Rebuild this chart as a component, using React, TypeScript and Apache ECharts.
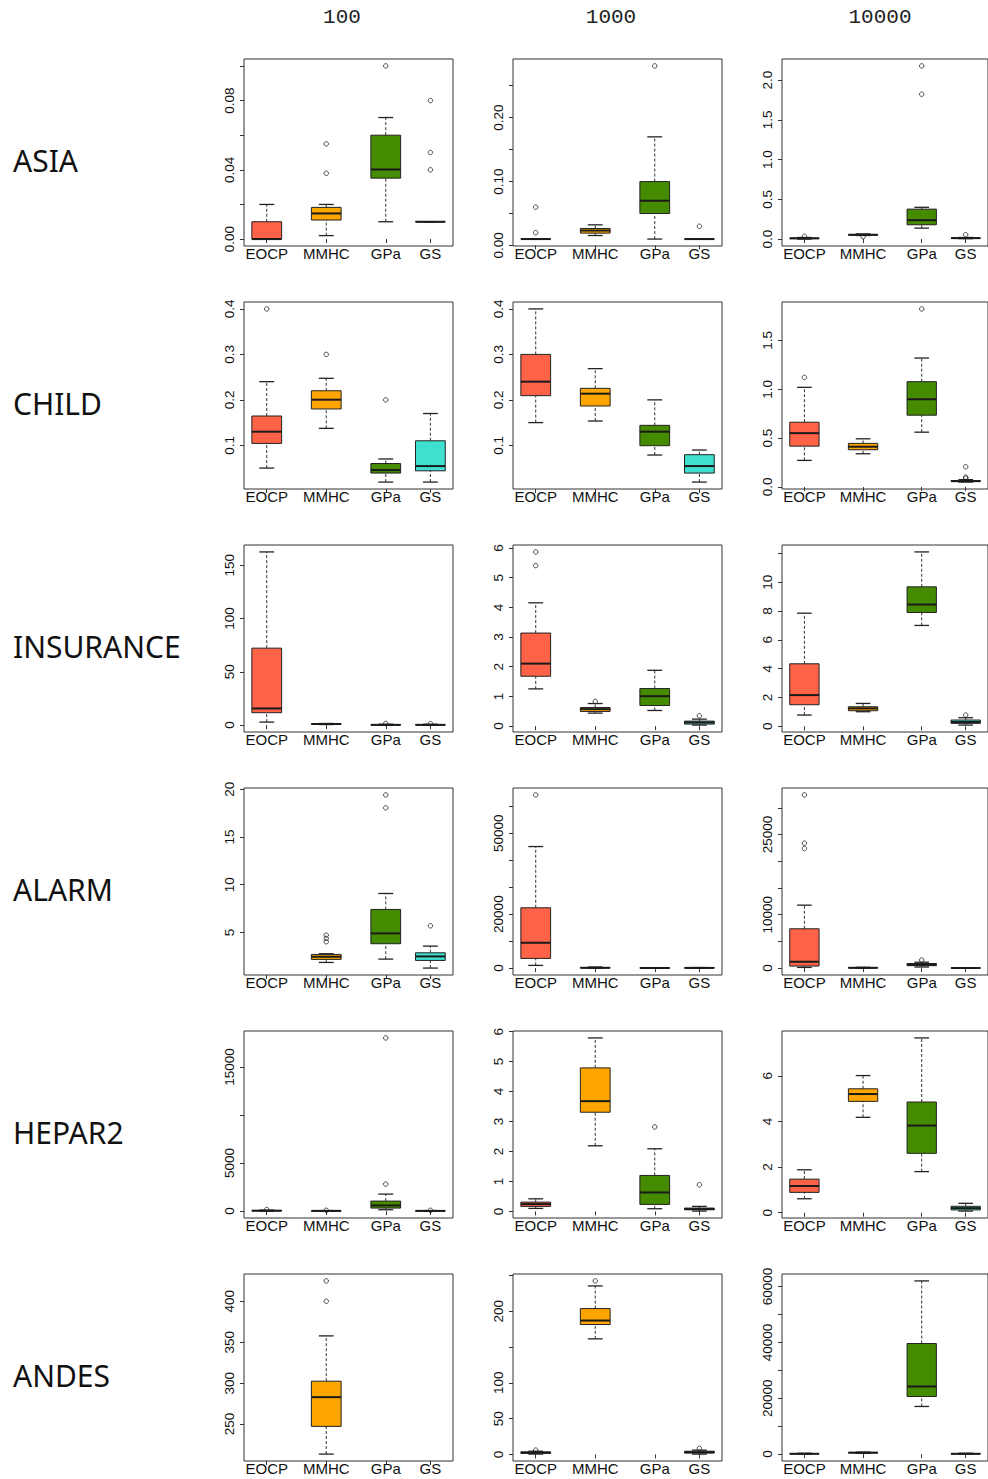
import React, { useEffect, useRef } from "react";
import * as echarts from "echarts";

// ---------- categories ----------
const METHODS = ["EOCP", "MMHC", "GPa", "GS"];
const METHOD_X = [1, 2, 3, 3.75];
const NETWORKS = ["ASIA", "CHILD", "INSURANCE", "ALARM", "HEPAR2", "ANDES"];
const SAMPLE_SIZES = ["100", "1000", "10000"];

// ---------- box statistics: [min, q1, median, q3, max] per method (null = no box) ----------
const ASIA_100_BOX = [
  [0, 0, 0, 0.01, 0.02],
  [0.002, 0.011, 0.0148, 0.0183, 0.02],
  [0.01, 0.0352, 0.0402, 0.06, 0.0702],
  [0.01, 0.01, 0.01, 0.01, 0.01],
];
const ASIA_100_OUT = [[], [0.055, 0.038], [0.1], [0.08, 0.05, 0.04]];
const ASIA_100_TICKS = [0, 0.02, 0.04, 0.06, 0.08, 0.1];
const ASIA_100_LABELS = [0, 0.04, 0.08];

const ASIA_1000_BOX = [
  [0.01, 0.01, 0.01, 0.01, 0.01],
  [0.0156, 0.0193, 0.0234, 0.0266, 0.0323],
  [0.01, 0.05, 0.07, 0.1, 0.17],
  [0.01, 0.01, 0.01, 0.01, 0.01],
];
const ASIA_1000_OUT = [[0.06, 0.02], [], [0.281], [0.03]];
const ASIA_1000_TICKS = [0, 0.05, 0.1, 0.15, 0.2, 0.25];
const ASIA_1000_LABELS = [0, 0.1, 0.2];

const ASIA_10000_BOX = [
  [0, 0.005, 0.01, 0.012, 0.02],
  [0.045, 0.05, 0.054, 0.058, 0.065],
  [0.138, 0.18, 0.238, 0.377, 0.4],
  [0.005, 0.01, 0.012, 0.014, 0.02],
];
const ASIA_10000_OUT = [[0.035], [0.03], [2.18, 1.824], [0.054]];
const ASIA_10000_TICKS = [0, 0.5, 1, 1.5, 2];
const ASIA_10000_LABELS = [0, 0.5, 1, 1.5, 2];

const CHILD_100_BOX = [
  [0.05, 0.1043, 0.13, 0.1645, 0.24],
  [0.1374, 0.18, 0.2004, 0.22, 0.2474],
  [0.0192, 0.039, 0.0456, 0.06, 0.07],
  [0.0192, 0.044, 0.0544, 0.11, 0.17],
];
const CHILD_100_OUT = [[0.4], [0.3], [0.2], []];
const CHILD_100_TICKS = [0.1, 0.2, 0.3, 0.4];
const CHILD_100_LABELS = [0.1, 0.2, 0.3, 0.4];

const CHILD_1000_BOX = [
  [0.15, 0.2092, 0.24, 0.3, 0.4],
  [0.1535, 0.1865, 0.2136, 0.2254, 0.2687],
  [0.0787, 0.0992, 0.13, 0.144, 0.2],
  [0.0192, 0.039, 0.0544, 0.0794, 0.0897],
];
const CHILD_1000_OUT = [[], [], [], []];
const CHILD_1000_TICKS = [0.1, 0.2, 0.3, 0.4];
const CHILD_1000_LABELS = [0.1, 0.2, 0.3, 0.4];

const CHILD_10000_BOX = [
  [0.272, 0.418, 0.551, 0.663, 1.02],
  [0.34, 0.381, 0.412, 0.446, 0.493],
  [0.561, 0.735, 0.898, 1.078, 1.32],
  [0.05, 0.055, 0.06, 0.065, 0.075],
];
const CHILD_10000_OUT = [[1.122], [], [1.823], [0.09, 0.1, 0.207]];
const CHILD_10000_TICKS = [0, 0.5, 1, 1.5];
const CHILD_10000_LABELS = [0, 0.5, 1, 1.5];

const INSURANCE_100_BOX = [
  [2.8, 11.6, 15.6, 72.2, 162.5],
  [0.5, 0.8, 1.0, 1.2, 1.5],
  [0, 0.1, 0.2, 0.4, 0.8],
  [0, 0.1, 0.2, 0.4, 0.8],
];
const INSURANCE_100_OUT = [[], [], [1.5], [1.4]];
const INSURANCE_100_TICKS = [0, 50, 100, 150];
const INSURANCE_100_LABELS = [0, 50, 100, 150];

const INSURANCE_1000_BOX = [
  [1.254, 1.68, 2.105, 3.135, 4.155],
  [0.437, 0.493, 0.571, 0.627, 0.76],
  [0.526, 0.694, 1.008, 1.265, 1.88],
  [0.034, 0.067, 0.123, 0.168, 0.235],
];
const INSURANCE_1000_OUT = [[5.87, 5.41], [0.83], [], [0.347]];
const INSURANCE_1000_TICKS = [0, 1, 2, 3, 4, 5, 6];
const INSURANCE_1000_LABELS = [0, 1, 2, 3, 4, 5, 6];

const INSURANCE_10000_BOX = [
  [0.785, 1.5, 2.17, 4.34, 7.85],
  [1.016, 1.085, 1.247, 1.36, 1.59],
  [7.0, 7.9, 8.45, 9.68, 12.1],
  [0.09, 0.21, 0.3, 0.44, 0.6],
];
const INSURANCE_10000_OUT = [[], [], [], [0.785]];
const INSURANCE_10000_TICKS = [0, 2, 4, 6, 8, 10, 12];
const INSURANCE_10000_LABELS = [0, 2, 4, 6, 8, 10];

const ALARM_100_BOX = [
  null,
  [1.86, 2.18, 2.46, 2.7, 2.77],
  [2.21, 3.82, 4.9, 7.41, 9.08],
  [1.27, 2.07, 2.49, 2.87, 3.57],
];
const ALARM_100_OUT = [[], [4.72, 4.37, 4.03], [19.4, 18.05], [5.7]];
const ALARM_100_TICKS = [5, 10, 15, 20];
const ALARM_100_LABELS = [5, 10, 15, 20];

const ALARM_1000_BOX = [
  [990, 3580, 9380, 22350, 45060],
  [0, 50, 100, 200, 400],
  [0, 20, 40, 80, 150],
  [0, 30, 60, 100, 200],
];
const ALARM_1000_OUT = [[64200], [], [], []];
const ALARM_1000_TICKS = [0, 10000, 20000, 30000, 40000, 50000, 60000];
const ALARM_1000_LABELS = [0, 20000, 50000];

const ALARM_10000_BOX = [
  [125, 374, 1185, 7357, 11780],
  [0, 20, 50, 100, 150],
  [200, 450, 650, 850, 1100],
  [0, 5, 10, 20, 30],
];
const ALARM_10000_OUT = [[32420, 23380, 22380], [], [1500], []];
const ALARM_10000_TICKS = [0, 5000, 10000, 15000, 20000, 25000, 30000];
const ALARM_10000_LABELS = [0, 10000, 25000];

const HEPAR2_100_BOX = [
  [0, 20, 40, 60, 100],
  [0, 10, 20, 30, 50],
  [139, 312, 589, 1040, 1767],
  [0, 10, 20, 30, 50],
];
const HEPAR2_100_OUT = [[160], [80], [18018, 2807], [80]];
const HEPAR2_100_TICKS = [0, 5000, 10000, 15000];
const HEPAR2_100_LABELS = [0, 5000, 15000];

const HEPAR2_1000_BOX = [
  [0.1, 0.167, 0.244, 0.31, 0.42],
  [2.19, 3.31, 3.68, 4.79, 5.79],
  [0.089, 0.233, 0.633, 1.2, 2.09],
  [0.011, 0.056, 0.078, 0.111, 0.167],
];
const HEPAR2_1000_OUT = [[], [], [2.82], [0.889]];
const HEPAR2_1000_TICKS = [0, 1, 2, 3, 4, 5, 6];
const HEPAR2_1000_LABELS = [0, 1, 2, 3, 4, 5, 6];

const HEPAR2_10000_BOX = [
  [0.61, 0.89, 1.17, 1.47, 1.88],
  [4.18, 4.88, 5.2, 5.43, 6.01],
  [1.8, 2.6, 3.82, 4.85, 7.66],
  [0.07, 0.12, 0.2, 0.28, 0.41],
];
const HEPAR2_10000_OUT = [[], [], [], []];
const HEPAR2_10000_TICKS = [0, 2, 4, 6];
const HEPAR2_10000_LABELS = [0, 2, 4, 6];

const ANDES_100_BOX = [null, [213.4, 247.2, 282.9, 302.4, 357.7], null, null];
const ANDES_100_OUT = [[], [424.8, 400], [], []];
const ANDES_100_TICKS = [250, 300, 350, 400];
const ANDES_100_LABELS = [250, 300, 350, 400];

const ANDES_1000_BOX = [
  [0.5, 1.5, 2.5, 3.5, 4.5],
  [161.4, 181.4, 187, 203.7, 235.3],
  null,
  [0.5, 2, 3, 4.5, 6],
];
const ANDES_1000_OUT = [[6], [242.3], [], [8.4]];
const ANDES_1000_TICKS = [0, 50, 100, 150, 200, 250];
const ANDES_1000_LABELS = [0, 50, 100, 200];

const ANDES_10000_BOX = [
  [0, 50, 100, 200, 300],
  [300, 400, 500, 600, 700],
  [17054, 20632, 24210, 39594, 62016],
  [0, 50, 100, 200, 300],
];
const ANDES_10000_OUT = [[], [], [], []];
const ANDES_10000_TICKS = [0, 10000, 20000, 30000, 40000, 50000, 60000];
const ANDES_10000_LABELS = [0, 20000, 40000, 60000];

// panel table (row-major: network x sample size)
const PANELS: any[] = [
  [ASIA_100_BOX, ASIA_100_OUT, ASIA_100_TICKS, ASIA_100_LABELS, 2],
  [ASIA_1000_BOX, ASIA_1000_OUT, ASIA_1000_TICKS, ASIA_1000_LABELS, 2],
  [ASIA_10000_BOX, ASIA_10000_OUT, ASIA_10000_TICKS, ASIA_10000_LABELS, 1],
  [CHILD_100_BOX, CHILD_100_OUT, CHILD_100_TICKS, CHILD_100_LABELS, 1],
  [CHILD_1000_BOX, CHILD_1000_OUT, CHILD_1000_TICKS, CHILD_1000_LABELS, 1],
  [CHILD_10000_BOX, CHILD_10000_OUT, CHILD_10000_TICKS, CHILD_10000_LABELS, 1],
  [INSURANCE_100_BOX, INSURANCE_100_OUT, INSURANCE_100_TICKS, INSURANCE_100_LABELS, 0],
  [INSURANCE_1000_BOX, INSURANCE_1000_OUT, INSURANCE_1000_TICKS, INSURANCE_1000_LABELS, 0],
  [INSURANCE_10000_BOX, INSURANCE_10000_OUT, INSURANCE_10000_TICKS, INSURANCE_10000_LABELS, 0],
  [ALARM_100_BOX, ALARM_100_OUT, ALARM_100_TICKS, ALARM_100_LABELS, 0],
  [ALARM_1000_BOX, ALARM_1000_OUT, ALARM_1000_TICKS, ALARM_1000_LABELS, 0],
  [ALARM_10000_BOX, ALARM_10000_OUT, ALARM_10000_TICKS, ALARM_10000_LABELS, 0],
  [HEPAR2_100_BOX, HEPAR2_100_OUT, HEPAR2_100_TICKS, HEPAR2_100_LABELS, 0],
  [HEPAR2_1000_BOX, HEPAR2_1000_OUT, HEPAR2_1000_TICKS, HEPAR2_1000_LABELS, 0],
  [HEPAR2_10000_BOX, HEPAR2_10000_OUT, HEPAR2_10000_TICKS, HEPAR2_10000_LABELS, 0],
  [ANDES_100_BOX, ANDES_100_OUT, ANDES_100_TICKS, ANDES_100_LABELS, 0],
  [ANDES_1000_BOX, ANDES_1000_OUT, ANDES_1000_TICKS, ANDES_1000_LABELS, 0],
  [ANDES_10000_BOX, ANDES_10000_OUT, ANDES_10000_TICKS, ANDES_10000_LABELS, 0],
];

// ---------- styles / layout ----------
const METHOD_COLORS = ["#FF6347", "#FFA500", "#458B00", "#40E0D0"];
const FRAME_LEFT = 244;
const COL_STEP = 269;
const FRAME_TOP = 59;
const ROW_STEP = 243;
const FRAME_W = 209;
const FRAME_H = 187;
const X_MIN = 0.618;
const X_MAX = 4.13;
const BOX_W = 0.5;
const AXIS_FONT = "'Liberation Sans', Arial, Helvetica, sans-serif";

function buildOption() {
  const grid: any[] = [];
  const xAxis: any[] = [];
  const yAxis: any[] = [];
  const series: any[] = [];

  PANELS.forEach((p, i) => {
    const [boxes, outs, ticks, labels, dec] = p;
    const r = Math.floor(i / 3);
    const c = i % 3;
    let lo = Infinity;
    let hi = -Infinity;
    boxes.forEach((b: number[] | null, m: number) => {
      if (b) {
        lo = Math.min(lo, ...b);
        hi = Math.max(hi, ...b);
      }
      outs[m].forEach((v: number) => {
        lo = Math.min(lo, v);
        hi = Math.max(hi, v);
      });
    });
    const pad = (hi - lo) * 0.04;

    grid.push({
      left: FRAME_LEFT + c * COL_STEP,
      top: FRAME_TOP + r * ROW_STEP,
      width: FRAME_W,
      height: FRAME_H,
      show: true,
      borderColor: "#333",
      borderWidth: 1,
      backgroundColor: "transparent",
    });
    xAxis.push({
      type: "value",
      gridIndex: i,
      min: X_MIN,
      max: X_MAX,
      splitLine: { show: false },
      axisLine: { show: false },
      axisTick: {
        show: true,
        customValues: METHOD_X,
        length: 4,
        lineStyle: { color: "#333", width: 1 },
      },
      axisLabel: {
        show: true,
        customValues: METHOD_X,
        formatter: (v: number) => {
          const k = METHOD_X.findIndex((x) => Math.abs(x - v) < 1e-6);
          return k >= 0 ? METHODS[k] : "";
        },
        fontSize: 15,
        fontFamily: AXIS_FONT,
        color: "#111",
        margin: 0,
      },
    });
    yAxis.push({
      type: "value",
      gridIndex: i,
      min: lo - pad,
      max: hi + pad,
      splitLine: { show: false },
      axisLine: { show: false },
      axisTick: {
        show: true,
        customValues: ticks,
        length: 4,
        lineStyle: { color: "#333", width: 1 },
      },
      axisLabel: {
        show: true,
        customValues: labels,
        rotate: 90,
        margin: 8,
        formatter: (v: number) => v.toFixed(dec),
        fontSize: 13.5,
        fontFamily: AXIS_FONT,
        color: "#111",
      },
    });

    const boxData: any[] = [];
    boxes.forEach((b: number[] | null, m: number) => {
      if (b) boxData.push([METHOD_X[m], b[0], b[1], b[2], b[3], b[4], m]);
    });
    series.push({
      type: "custom",
      xAxisIndex: i,
      yAxisIndex: i,
      data: boxData,
      encode: { x: 0, y: [1, 2, 3, 4, 5] },
      z: 2,
      renderItem: (params: any, api: any) => {
        const x = api.value(0);
        const m = api.value(6);
        const pMin = api.coord([x, api.value(1)]);
        const pQ1 = api.coord([x, api.value(2)]);
        const pMed = api.coord([x, api.value(3)]);
        const pQ3 = api.coord([x, api.value(4)]);
        const pMax = api.coord([x, api.value(5)]);
        const half = api.size([BOX_W, 0])[0] / 2;
        const cap = half / 2;
        const cx = pMin[0];
        const dash = { stroke: "#333", lineWidth: 1, lineDash: [3, 2] };
        const capStyle = { stroke: "#222", lineWidth: 1.3 };
        return {
          type: "group",
          children: [
            { type: "line", shape: { x1: cx, y1: pQ3[1], x2: cx, y2: pMax[1] }, style: dash },
            { type: "line", shape: { x1: cx, y1: pMin[1], x2: cx, y2: pQ1[1] }, style: dash },
            { type: "line", shape: { x1: cx - cap, y1: pMax[1], x2: cx + cap, y2: pMax[1] }, style: capStyle },
            { type: "line", shape: { x1: cx - cap, y1: pMin[1], x2: cx + cap, y2: pMin[1] }, style: capStyle },
            {
              type: "rect",
              shape: { x: cx - half, y: pQ3[1], width: 2 * half, height: Math.max(0, pQ1[1] - pQ3[1]) },
              style: { fill: METHOD_COLORS[m], stroke: "#222", lineWidth: 1 },
            },
            {
              type: "line",
              shape: { x1: cx - half, y1: pMed[1], x2: cx + half, y2: pMed[1] },
              style: { stroke: "#1a1a1a", lineWidth: 2 },
            },
          ],
        };
      },
    });

    const outData: number[][] = [];
    outs.forEach((arr: number[], m: number) => {
      arr.forEach((v) => outData.push([METHOD_X[m], v]));
    });
    series.push({
      type: "scatter",
      xAxisIndex: i,
      yAxisIndex: i,
      data: outData,
      symbol: "circle",
      symbolSize: 4.5,
      z: 3,
      itemStyle: { color: "rgba(0,0,0,0)", borderColor: "#222", borderWidth: 1 },
    });
  });

  const graphic: any[] = [];
  SAMPLE_SIZES.forEach((s, c) => {
    graphic.push({
      type: "text",
      x: 342 + c * COL_STEP,
      y: 17,
      style: {
        text: s,
        fontSize: 21,
        fontFamily: "'Liberation Mono', 'DejaVu Sans Mono', monospace",
        fill: "#222",
        align: "center",
        verticalAlign: "middle",
      },
    });
  });
  NETWORKS.forEach((n, r) => {
    graphic.push({
      type: "text",
      x: 13,
      y: 160 + r * ROW_STEP,
      style: {
        text: n,
        fontSize: 30,
        fontFamily: "'Noto Sans', 'Open Sans', sans-serif",
        fill: "#111",
        align: "left",
        verticalAlign: "middle",
      },
    });
  });

  return {
    animation: false,
    backgroundColor: "#ffffff",
    grid,
    xAxis,
    yAxis,
    series,
    graphic,
  };
}

export default function App() {
  const ref = useRef<HTMLDivElement>(null);
  useEffect(() => {
    if (!ref.current) return;
    const chart = echarts.init(ref.current, undefined, { renderer: "svg" });
    chart.setOption(buildOption() as any);
    return () => chart.dispose();
  }, []);
  return (
    <div
      ref={ref}
      style={{ position: "absolute", left: 0, top: 0, width: 988, height: 1479, background: "#fff" }}
    />
  );
}
